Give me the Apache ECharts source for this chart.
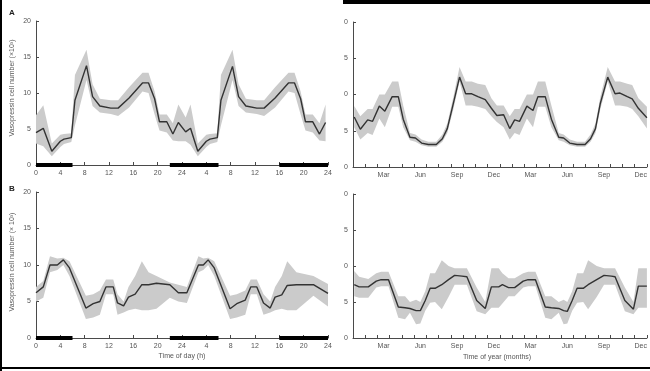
<!DOCTYPE html>
<html><head><meta charset="utf-8">
<script src="https://cdn.jsdelivr.net/npm/echarts@6/dist/echarts.min.js"></script>
<style>html,body{margin:0;padding:0;background:#fff}#c{width:650px;height:371px}</style>
</head><body><div id="c"></div>
<script>
// ---- Data ----
// Time axis (hours, double-plotted 0..48)
const hourTicks = [0,4,8,12,16,20,24,28,32,36,40,44,48];
const darkPeriods = [[0,6],[22,30],[40,48]];
// Panel A left: time of day
const aDayT  = [0,1.2,2.6,4.0,4.6,5.8,6.4,8.3,9.3,10.5,12.3,13.5,15.3,17.5,18.5,19.5,20.3,21.5,22.5,23.4,
                24.6,25.4,26.6,28.0,28.6,29.8,30.4,32.3,33.3,34.5,36.3,37.5,39.3,41.5,42.5,43.5,44.3,45.5,46.6,47.6];
const aDayV  = [4.5,5.1,1.9,3.3,3.6,3.8,9.0,13.8,9.5,8.2,7.9,7.9,9.3,11.4,11.4,9.2,6.0,6.0,4.3,5.9,
                4.6,5.1,1.9,3.3,3.6,3.8,9.0,13.7,9.5,8.2,7.9,7.9,9.3,11.4,11.4,9.2,6.0,6.0,4.3,5.9];
const aDayLo = [3.0,2.6,1.2,2.5,2.9,3.2,5.5,11.8,8.2,7.3,7.1,6.8,8.0,10.2,10.0,7.0,4.8,4.5,3.4,3.3,
                3.3,2.8,1.2,2.5,2.9,3.2,5.5,11.8,8.2,7.3,7.1,6.8,8.0,10.2,10.0,7.0,4.8,4.5,3.4,3.3];
const aDayHi = [6.9,8.3,3.0,4.2,4.3,4.4,12.5,16.0,11.2,9.2,9.0,9.0,10.8,12.8,12.8,10.2,7.0,7.0,5.8,8.4,
                6.6,8.4,3.0,4.2,4.3,4.4,12.5,16.0,11.2,9.2,9.0,9.0,10.8,12.8,12.8,10.2,7.0,7.0,5.8,8.4];
// Panel B left: time of day
const bDayT  = [0,1.2,2.3,3.5,4.5,5.5,8.2,9.4,10.5,11.5,12.7,13.4,14.4,15.2,16.3,17.4,18.5,19.8,22.0,23.4,
                24.8,26.7,27.5,28.3,29.3,31.9,33.0,34.4,35.3,36.3,37.4,38.5,39.3,40.4,41.3,42.8,45.6,48.0];
const bDayV  = [6.2,7.0,10.0,10.0,10.7,9.6,4.1,4.7,5.0,7.0,7.0,4.8,4.4,5.6,6.0,7.3,7.3,7.5,7.3,6.2,
                6.2,10.0,10.0,10.7,9.6,4.0,4.7,5.2,7.0,7.0,4.8,4.1,5.6,5.9,7.2,7.3,7.3,6.1];
const bDayLo = [5.0,5.5,9.0,9.3,10.0,8.5,2.6,2.8,3.2,6.0,6.0,3.2,3.5,3.8,4.0,3.8,3.8,4.0,5.5,5.0,
                4.8,9.0,9.3,10.0,8.5,2.6,2.8,3.2,6.0,6.0,3.2,3.5,3.8,4.0,3.8,3.8,5.8,4.3];
const bDayHi = [7.0,7.8,11.2,10.9,11.0,10.5,5.8,6.0,6.5,8.0,8.0,6.0,5.0,7.0,8.5,10.5,9.0,8.5,7.6,7.3,
                7.0,11.2,10.9,11.0,10.5,5.8,6.0,6.5,8.0,8.0,6.0,5.0,7.0,8.5,10.5,9.0,8.5,7.4];
// Time of year (months, 0..24)
const months = ['Jan','Feb','Mar','Apr','May','Jun','Jul','Aug','Sep','Oct','Nov','Dec',
                'Jan','Feb','Mar','Apr','May','Jun','Jul','Aug','Sep','Oct','Nov','Dec'];
const monthLabels = ['Mar','Jun','Sep','Dec'];
// Panel A right
const aYrT  = [0.1,0.6,1.2,1.6,2.15,2.6,3.2,3.7,4.1,4.65,5.1,5.6,6.15,6.8,7.3,7.7,8.2,8.7,9.2,9.7,10.2,10.8,11.3,11.75,
               12.3,12.8,13.2,13.6,14.2,14.7,15.1,15.7,16.2,16.8,17.2,17.7,18.3,18.95,19.4,19.8,20.2,20.8,21.4,21.8,22.4,22.8,23.3,24.0];
const aYrV  = [6.9,5.2,6.5,6.3,8.4,7.7,9.7,9.7,6.6,4.1,4.0,3.3,3.1,3.1,3.9,5.3,8.8,12.4,10.1,10.1,9.7,9.3,8.1,7.1,
               7.2,5.3,6.5,6.3,8.4,7.8,9.7,9.7,6.6,4.1,4.0,3.3,3.1,3.1,3.9,5.3,8.8,12.4,10.1,10.2,9.7,9.4,8.1,6.8];
const aYrLo = [5.5,3.8,4.7,4.4,6.7,5.5,8.3,8.3,5.5,3.7,3.5,3.0,2.8,2.8,3.5,4.7,8.0,11.8,8.5,8.5,8.3,8.0,7.0,6.2,
               5.5,3.8,4.7,4.4,6.7,5.5,8.3,8.3,5.5,3.7,3.5,3.0,2.8,2.8,3.5,4.7,8.0,11.8,8.5,8.5,8.3,8.0,7.0,5.3];
const aYrHi = [8.4,7.0,8.0,8.0,10.0,10.0,11.8,11.8,8.5,4.7,4.5,3.8,3.5,3.5,4.5,6.0,9.7,13.8,11.8,11.8,11.5,11.3,9.5,8.5,
               8.5,7.0,8.0,8.0,10.0,10.0,11.8,11.8,8.5,4.7,4.5,3.8,3.5,3.5,4.5,6.0,9.7,13.8,11.8,11.8,11.5,11.3,9.5,8.3];
// Panel B right
const bYrT  = [0.1,0.5,1.25,1.9,2.3,2.9,3.7,4.25,4.65,5.15,5.5,5.9,6.3,6.7,7.25,7.8,8.3,8.9,9.3,10.1,10.8,11.3,11.9,
               12.2,12.7,13.2,13.9,14.3,14.9,15.7,16.2,16.8,17.2,17.5,17.9,18.3,18.8,19.2,19.9,20.5,21.1,21.4,22.2,22.9,23.3,24.0];
const bYrV  = [7.4,7.1,7.1,7.9,8.1,8.1,4.3,4.2,4.1,3.8,3.8,5.2,6.9,6.9,7.4,8.1,8.7,8.6,8.5,5.2,4.1,7.1,7.1,
               7.4,7.0,7.0,7.9,8.1,8.1,4.3,4.2,4.1,3.8,3.7,5.2,6.9,6.9,7.4,8.1,8.7,8.6,8.5,5.2,4.0,7.2,7.2];
const bYrLo = [5.8,5.6,5.6,7.0,7.2,7.2,2.8,2.6,3.5,1.9,2.0,3.8,4.9,5.0,4.0,5.7,7.4,7.4,7.4,3.7,3.3,4.2,4.2,
               4.8,5.8,5.8,7.0,7.2,7.2,2.8,2.6,3.5,1.9,2.0,3.8,4.9,5.0,4.0,5.7,7.4,7.4,7.4,3.7,3.3,4.2,4.2];
const bYrHi = [9.3,8.5,8.2,9.0,9.2,9.2,5.8,5.8,5.0,5.3,5.0,6.5,9.0,9.0,10.8,10.0,9.7,9.7,9.7,7.0,5.0,9.7,9.7,
               9.0,8.3,8.3,9.0,9.2,9.2,5.8,5.8,5.0,5.3,5.0,6.5,9.0,9.0,10.8,10.0,9.7,9.7,9.7,7.0,5.0,9.7,9.7];
const yTicks = [0,5,10,15,20];

// ---- Styles ----
const FONT = '"Liberation Sans", Arial, sans-serif';
const AX = '#4a4a4a';
const LINE = '#333333';
const BAND = '#cbcbcb';

const grids = [
  {left:36, top:21, width:292, height:144},
  {left:36, top:192, width:292, height:146},
  {left:353, top:22, width:294, height:145},
  {left:353, top:194, width:294, height:144}
];

function yAxis(gi){
  return {type:'value', gridIndex:gi, min:yTicks[0], max:yTicks[yTicks.length-1], interval:5,
    axisLine:{show:true, lineStyle:{color:AX, width:1}},
    axisTick:{show:true, inside:true, length:3, lineStyle:{color:AX}},
    axisLabel:{fontSize:7, color:'#555', margin:5, fontFamily:FONT},
    splitLine:{show:false}};
}
function hourAxis(gi){
  return {type:'value', gridIndex:gi, min:hourTicks[0], max:hourTicks[hourTicks.length-1], interval:4,
    axisLine:{show:true, onZero:false, lineStyle:{color:AX, width:1}},
    axisTick:{show:true, inside:true, length:3, lineStyle:{color:AX}},
    axisLabel:{fontSize:7, color:'#555', margin:5, fontFamily:FONT,
      formatter: v => String(v > 24 ? v - 24 : v)},
    splitLine:{show:false}};
}
function monthAxis(gi){
  return {type:'category', gridIndex:gi, data:months, boundaryGap:true,
    axisLine:{show:true, onZero:false, lineStyle:{color:AX, width:1}},
    axisTick:{show:true, inside:true, length:3, alignWithLabel:false, interval:0, lineStyle:{color:AX}},
    axisLabel:{fontSize:7, color:'#555', margin:5, fontFamily:FONT,
      interval: (i, v) => monthLabels.indexOf(v) >= 0},
    splitLine:{show:false}};
}
function monthValAxis(gi){
  return {type:'value', gridIndex:gi, min:0, max:months.length, show:false};
}

function band(xi, yi, T, LO, HI){
  return {type:'custom', xAxisIndex:xi, yAxisIndex:yi, z:1, silent:true,
    data: T.map((t,i)=>[t, LO[i], HI[i]]),
    renderItem: function(params, api){
      if (params.dataIndex !== 0) return null;
      const pts = [];
      for (let i=0;i<T.length;i++) pts.push(api.coord([T[i], HI[i]]));
      for (let i=T.length-1;i>=0;i--) pts.push(api.coord([T[i], LO[i]]));
      return {type:'polygon', shape:{points:pts}, style:{fill:BAND, stroke:null}};
    }};
}
function line(xi, yi, T, V){
  return {type:'line', xAxisIndex:xi, yAxisIndex:yi, z:3, silent:true, showSymbol:false, symbol:'none',
    data: T.map((t,i)=>[t, V[i]]), lineStyle:{color:LINE, width:1.4}};
}
function darkBars(xi, yi){
  return darkPeriods.map(p => ({type:'line', xAxisIndex:xi, yAxisIndex:yi, z:5, silent:true, clip:false,
    showSymbol:false, symbol:'none', data:[[p[0],0],[p[1],0]], lineStyle:{color:'#000', width:4, cap:'butt'}}));
}

const option = {
  animation:false,
  backgroundColor:'#fff',
  textStyle:{fontFamily:FONT},
  grid: grids,
  xAxis: [hourAxis(0), hourAxis(1), monthAxis(2), monthAxis(3), monthValAxis(2), monthValAxis(3)],
  yAxis: [yAxis(0), yAxis(1), yAxis(2), yAxis(3)],
  series: [
    band(0,0,aDayT,aDayLo,aDayHi), line(0,0,aDayT,aDayV), ...darkBars(0,0),
    band(1,1,bDayT,bDayLo,bDayHi), line(1,1,bDayT,bDayV), ...darkBars(1,1),
    band(4,2,aYrT,aYrLo,aYrHi), line(4,2,aYrT,aYrV),
    band(5,3,bYrT,bYrLo,bYrHi), line(5,3,bYrT,bYrV)
  ],
  graphic: [
    // frame fragments of the scanned figure
    {type:'rect', shape:{x:0, y:0, width:2, height:371}, style:{fill:'#000'}, z:100},
    {type:'rect', shape:{x:0, y:367, width:650, height:2}, style:{fill:'#000'}, z:100},
    {type:'rect', shape:{x:343, y:0, width:307, height:4}, style:{fill:'#000'}, z:100},
    // right panels' cropped left margin
    {type:'rect', shape:{x:333, y:12, width:11, height:340}, style:{fill:'#fff'}, z:90},
    // panel letters
    {type:'text', left:9, top:9, style:{text:'A', font:'bold 8px '+FONT, fill:'#222'}, z:100},
    {type:'text', left:9, top:185, style:{text:'B', font:'bold 8px '+FONT, fill:'#222'}, z:100},
    // axis titles
    {type:'text', x:12, y:88, rotation:Math.PI/2, style:{text:'Vasopressin cell number (×10³)', font:'7px '+FONT, fill:'#555', align:'center', verticalAlign:'middle'}, z:100},
    {type:'text', x:12, y:262, rotation:Math.PI/2, style:{text:'Vasopressin cell number (× 10³)', font:'7px '+FONT, fill:'#555', align:'center', verticalAlign:'middle'}, z:100},
    {type:'text', x:182, y:356, style:{text:'Time of day (h)', font:'7px '+FONT, fill:'#555', align:'center', verticalAlign:'middle'}, z:100},
    {type:'text', x:497, y:357, style:{text:'Time of year (months)', font:'7px '+FONT, fill:'#555', align:'center', verticalAlign:'middle'}, z:100}
  ]
};
const chart = echarts.init(document.getElementById('c'), null, {renderer:'canvas'});
chart.setOption(option);
</script></body></html>
